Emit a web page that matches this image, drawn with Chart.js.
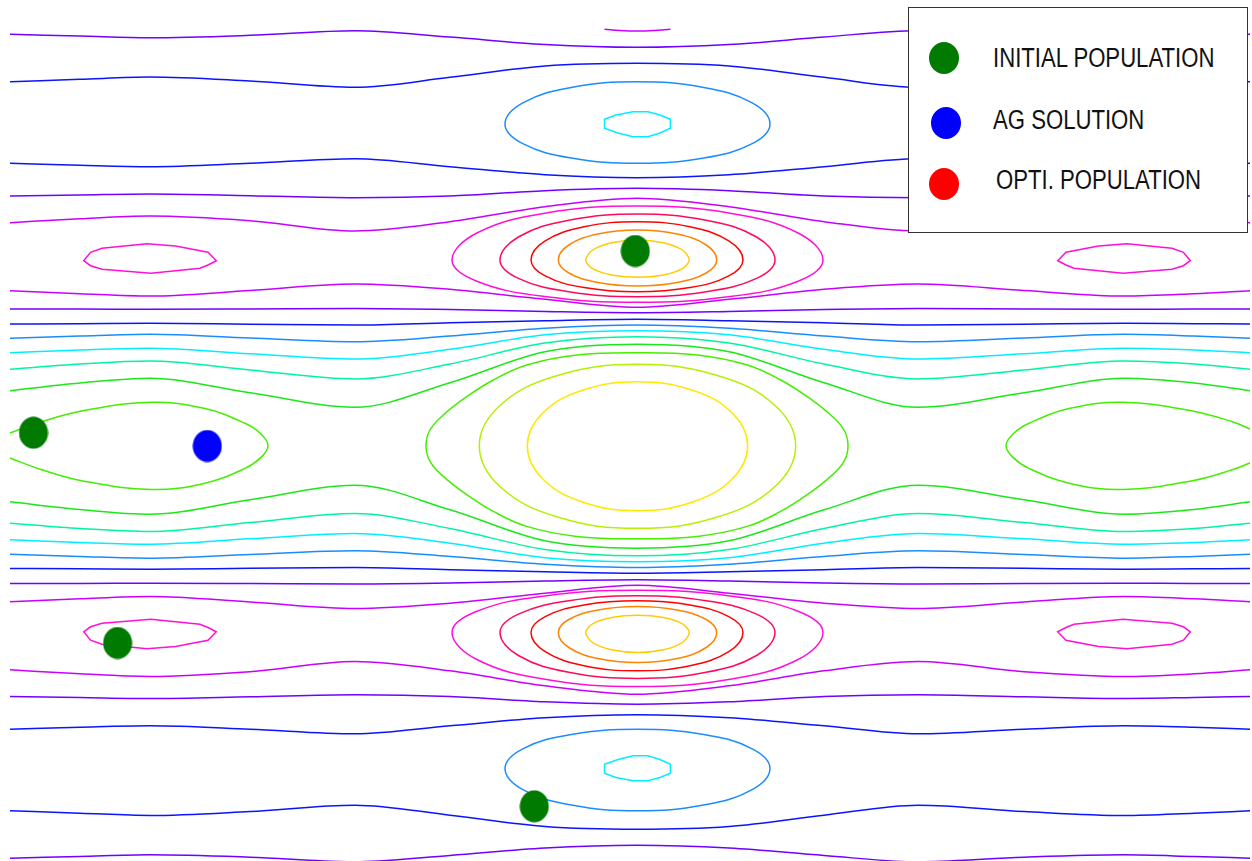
<!DOCTYPE html>
<html>
<head>
<meta charset="utf-8">
<title>Contour - population</title>
<script src="https://cdn.jsdelivr.net/npm/chart.js@4.4.1/dist/chart.umd.min.js"></script>
<style>
  html, body { margin: 0; padding: 0; background: #fff; overflow: hidden; }
  #wrap { position: relative; width: 1252px; height: 861px; }
  #wrap canvas { display: block; }
  #legendBox { position: absolute; left: 908px; top: 7px; width: 340px; height: 226px; box-sizing: border-box; border: 1.5px solid #333; background: #fff; }
  .lg-dot { position: absolute; width: 30px; height: 32px; border-radius: 50%; }
  .lg-text { position: absolute; font-family: "Liberation Sans", Arial, sans-serif; font-size: 27px; line-height: 27px; color: #111; white-space: nowrap; transform: scaleX(0.82); transform-origin: 0 0; }
</style>
</head>
<body>
<div id="wrap">
  <canvas id="contourChart"></canvas>
</div>
<script>
// x positions (plot units) where the open contour lines were read
const xs = [10, 80, 150, 250, 355, 450, 545, 637, 729, 824, 918, 1024, 1124, 1194, 1250];

// open contour lines, top to bottom (y)
const lineA = [34.3, 36, 37.7, 35.3, 30.7, 37, 44.5, 47.3, 44.5, 37, 30.7, 35.3, 37.7, 36, 34.3];
const lineB = [81.7, 79.3, 77, 81, 87.3, 77.3, 66, 63.3, 66, 77.3, 87.3, 81, 77, 79.3, 81.7];
const lineC = [163.3, 165.3, 166.7, 163.3, 158.7, 166.7, 174.7, 177.7, 174.7, 166.7, 158.7, 163.3, 166.7, 165.3, 163.3];
const lineD = [196, 195, 194, 195.7, 197.7, 196, 190.7, 188.3, 190.7, 196, 197.7, 195.7, 194, 195, 196];
const lineE = [222.7, 218.7, 216, 220.7, 231, 221.7, 206.7, 198.3, 206.7, 221.7, 231, 220.7, 216, 218.7, 222.7];
const lineF = [290.7, 293.7, 296, 290.5, 284, 289.3, 299.3, 307.3, 299.3, 289.3, 284, 290.5, 296, 293.7, 290.7];
const lineG = [309, 309, 309.3, 309, 308.5, 309.5, 311.5, 312.7, 311.5, 309.5, 308.5, 309, 309.3, 309, 309];
const lineH = [324, 323.7, 323.3, 324.2, 325, 322.7, 320.7, 319.3, 320.7, 322.7, 325, 324.2, 323.3, 323.7, 324];
const lineI = [338.3, 336, 334.3, 338, 341.7, 336, 328.3, 325, 328.3, 336, 341.7, 338, 334.3, 336, 338.3];
const lineJ = [352.7, 350, 348.3, 353.7, 359, 349.3, 334.7, 330.7, 334.7, 349.3, 359, 353.7, 348.3, 350, 352.7];
const lineK = [369.3, 364, 361, 370, 379, 364, 343, 336.7, 343, 364, 379, 370, 361, 364, 369.3];
const lineL = [390.7, 383, 378.3, 392.8, 407.3, 382.7, 351.7, 344.3, 351.7, 382.7, 407.3, 392.8, 378.3, 383, 390.7];
const lineM = [501.8, 509.5, 514.2, 499.7, 485.2, 509.8, 540.8, 548.2, 540.8, 509.8, 485.2, 499.7, 514.2, 509.5, 501.8];
const lineN = [523.2, 528.5, 531.5, 522.5, 513.5, 528.5, 549.5, 555.8, 549.5, 528.5, 513.5, 522.5, 531.5, 528.5, 523.2];
const lineO = [539.8, 542.5, 544.2, 538.8, 533.5, 543.2, 557.8, 561.8, 557.8, 543.2, 533.5, 538.8, 544.2, 542.5, 539.8];
const lineP = [554.2, 556.5, 558.2, 554.5, 550.8, 556.5, 564.2, 567.5, 564.2, 556.5, 550.8, 554.5, 558.2, 556.5, 554.2];
const lineQ = [568.5, 568.8, 569.2, 568.3, 567.5, 569.8, 571.8, 573.2, 571.8, 569.8, 567.5, 568.3, 569.2, 568.8, 568.5];
const lineR = [583.5, 583.5, 583.2, 583.5, 584, 583, 581, 579.8, 581, 583, 584, 583.5, 583.2, 583.5, 583.5];
const lineS = [601.8, 598.8, 596.5, 602, 608.5, 603.2, 593.2, 585.2, 593.2, 603.2, 608.5, 602, 596.5, 598.8, 601.8];
const lineT = [669.8, 673.8, 676.5, 671.8, 661.5, 670.8, 685.8, 694.2, 685.8, 670.8, 661.5, 671.8, 676.5, 673.8, 669.8];
const lineU = [696.5, 697.5, 698.5, 696.8, 694.8, 696.5, 701.8, 704.2, 701.8, 696.5, 694.8, 696.8, 698.5, 697.5, 696.5];
const lineV = [729.2, 727.2, 725.8, 729.2, 733.8, 725.8, 717.8, 714.8, 717.8, 725.8, 733.8, 729.2, 725.8, 727.2, 729.2];
const lineW = [810.8, 813.2, 815.5, 811.5, 805.2, 815.2, 826.5, 829.2, 826.5, 815.2, 805.2, 811.5, 815.5, 813.2, 810.8];
const lineX = [858.2, 856.5, 854.8, 857.2, 861.8, 855.5, 848, 845.2, 848, 855.5, 861.8, 857.2, 854.8, 856.5, 858.2];

// contours cut by the plot edges (open), [x, y] pairs
const topArc = [[604.5, 29.3], [620, 30.5], [637, 31], [654, 30.5], [670.4, 29.3]];
const leftGreenLoop = [[10, 433], [41, 422], [81.6, 411], [151, 402.3], [204, 408.3], [245, 423.3], [261, 434], [268, 445.7], [261, 457.4], [245, 468.4], [204, 483.4], [151, 489.5], [81.6, 480.7], [41, 469.5], [10, 458]];
const rightGreenLoop = [[1250, 429], [1233, 422], [1192.4, 411], [1123, 402.3], [1070, 408.3], [1029, 423.3], [1013, 434], [1006, 445.7], [1013, 457.4], [1029, 468.4], [1070, 483.4], [1123, 489.5], [1192.4, 480.7], [1233, 469.5], [1250, 463]];

// closed contours, [x, y] pairs (the path is closed back to the first point)
const topBlueRing = [[505, 124], [522.8, 102.9], [571.3, 87.4], [637.5, 81.7], [703.7, 87.4], [752.2, 102.9], [770, 124], [752.2, 143.7], [703.7, 158], [637.5, 163.3], [571.3, 158], [522.8, 143.7]];
const topCyanRing = [[604.5, 119.3], [616, 115], [633, 111.7], [648, 111.7], [660, 115], [670.4, 119.3], [670.4, 128.3], [660, 133], [648, 136.7], [633, 136.7], [618, 133], [604.5, 128.3]];
const topLeftPink = [[83.7, 260.7], [90.6, 252.3], [102, 248.3], [147, 243.7], [175.5, 246], [208, 252.3], [216.3, 260.7], [208, 265], [200, 268.3], [151, 273.3], [102, 269.3], [90.6, 265.7]];
const topRightPink = [[1057.7, 260.7], [1066, 252.3], [1098.5, 246], [1127, 243.7], [1172, 248.3], [1183.4, 252.3], [1190.3, 260.7], [1183.4, 265.7], [1172, 269.3], [1123, 273.3], [1074, 268.3], [1066, 265]];
const topMagentaRing = [[452, 260], [476.9, 233], [544.8, 213.2], [637.5, 206], [730.2, 213.2], [798.1, 233], [823, 260], [798.1, 281.2], [730.2, 296.6], [637.5, 302.3], [544.8, 296.6], [476.9, 281.2]];
const topCrimsonRing = [[500, 260], [518.4, 237], [568.8, 220.2], [637.5, 214], [706.2, 220.2], [756.6, 237], [775, 260], [756.6, 278.4], [706.2, 291.8], [637.5, 296.7], [568.8, 291.8], [518.4, 278.4]];
const topRedRing = [[531, 260], [545.2, 240.9], [584, 226.8], [637, 221.7], [690, 226.8], [728.8, 240.9], [743, 260], [728.8, 275.9], [690, 287.5], [637, 291.7], [584, 287.5], [545.2, 275.9]];
const topOrangeRing = [[558.3, 260], [568.8, 245], [597.9, 234], [637.5, 230], [677.1, 234], [706.2, 245], [716.7, 260], [706.2, 273], [677.1, 282.5], [637.5, 286], [597.9, 282.5], [568.8, 273]];
const topYellowRing = [[585.7, 260], [592.6, 250], [611.6, 242.7], [637.5, 240], [663.4, 242.7], [682.4, 250], [689.3, 260], [682.4, 268.7], [663.4, 275], [637.5, 277.3], [611.6, 275], [592.6, 268.7]];

const midYellowRing = [[527.3, 445.7], [542.1, 413.7], [582.4, 390.3], [637.5, 381.7], [692.6, 390.3], [732.9, 413.7], [747.7, 445.7], [732.9, 478.2], [692.6, 502], [637.5, 510.7], [582.4, 502], [542.1, 478.2]];
const midLimeRing = [[479.3, 445.7], [500.5, 405], [558.4, 375.2], [637.5, 364.3], [716.6, 375.2], [774.5, 405], [795.7, 445.7], [774.5, 487], [716.6, 517.2], [637.5, 528.3], [558.4, 517.2], [500.5, 487]];
const midGreenRing = [[426, 445.7], [430, 430], [443.3, 415], [466.7, 396.7], [493.3, 380], [526.7, 365], [576.7, 355], [637, 352.7], [697.3, 355], [747.3, 365], [780.7, 380], [807.3, 396.7], [830.7, 415], [844, 430], [848, 445.7], [844, 461.4], [830.7, 476.4], [807.3, 494.7], [780.7, 511.4], [747.3, 526.4], [697.3, 536.4], [637, 538.7], [576.7, 536.4], [526.7, 526.4], [493.3, 511.4], [466.7, 494.7], [443.3, 476.4], [430, 461.4]];

const botLeftPink = [[83.7, 631.8], [90.6, 640.2], [102, 644.2], [147, 648.8], [175.5, 646.5], [208, 640.2], [216.3, 631.8], [208, 627.5], [200, 624.2], [151, 619.2], [102, 623.2], [90.6, 626.8]];
const botRightPink = [[1057.7, 631.8], [1066, 640.2], [1098.5, 646.5], [1127, 648.8], [1172, 644.2], [1183.4, 640.2], [1190.3, 631.8], [1183.4, 626.8], [1172, 623.2], [1123, 619.2], [1074, 624.2], [1066, 627.5]];
const botMagentaRing = [[452, 632.5], [476.9, 659.5], [544.8, 679.3], [637.5, 686.5], [730.2, 679.3], [798.1, 659.5], [823, 632.5], [798.1, 611.3], [730.2, 595.9], [637.5, 590.2], [544.8, 595.9], [476.9, 611.3]];
const botCrimsonRing = [[500, 632.5], [518.4, 655.5], [568.8, 672.3], [637.5, 678.5], [706.2, 672.3], [756.6, 655.5], [775, 632.5], [756.6, 614.1], [706.2, 600.7], [637.5, 595.8], [568.8, 600.7], [518.4, 614.1]];
const botRedRing = [[531, 632.5], [545.2, 651.6], [584, 665.7], [637, 670.8], [690, 665.7], [728.8, 651.6], [743, 632.5], [728.8, 616.6], [690, 605], [637, 600.8], [584, 605], [545.2, 616.6]];
const botOrangeRing = [[558.3, 632.5], [568.8, 647.5], [597.9, 658.5], [637.5, 662.5], [677.1, 658.5], [706.2, 647.5], [716.7, 632.5], [706.2, 619.5], [677.1, 610], [637.5, 606.5], [597.9, 610], [568.8, 619.5]];
const botYellowRing = [[585.7, 632.5], [592.6, 642.5], [611.6, 649.8], [637.5, 652.5], [663.4, 649.8], [682.4, 642.5], [689.3, 632.5], [682.4, 623.8], [663.4, 617.5], [637.5, 615.2], [611.6, 617.5], [592.6, 623.8]];
const botBlueRing = [[505, 768.5], [522.8, 789.6], [571.3, 805.1], [637.5, 810.8], [703.7, 805.1], [752.2, 789.6], [770, 768.5], [752.2, 748.8], [703.7, 734.5], [637.5, 729.2], [571.3, 734.5], [522.8, 748.8]];
const botCyanRing = [[604.5, 773.2], [616, 777.5], [633, 780.8], [648, 780.8], [660, 777.5], [670.4, 773.2], [670.4, 764.2], [660, 759.5], [648, 755.8], [633, 755.8], [618, 759.5], [604.5, 764.2]];

// population points
const initialX = [33.5, 635.3, 117.6, 534.3];
const initialY = [432.7, 251, 643, 806.3];
const agX = [207.3];
const agY = [446];
const optiX = [];
const optiY = [];

// level colours
const C = {
    purple: '#7000ff', blue: '#0a14ff', lightBlue: '#1a8cff', cyan: '#00eeff',
    aqua: '#00f5a0', green: '#1ae81a', green2: '#44ee00', lime: '#b4f000',
    yellow: '#ffe800', violet: '#c800ff', pink: '#ff10d8', crimson: '#ff0a5a',
    red: '#ff0000', orange: '#ff8400', gold: '#ffcc00'
};

function openLine(ys, color) {
    return {
        data: xs.map((x, i) => ({ x: x, y: ys[i] })),
        showLine: true, borderColor: color, borderWidth: 1.5,
        pointRadius: 0, cubicInterpolationMode: 'monotone', fill: false
    };
}

function curve(pts, color, tension, closed) {
    return {
        data: pts.map(p => ({ x: p[0], y: p[1] })),
        showLine: true, borderColor: color, borderWidth: 1.5,
        pointRadius: 0, tension: tension, fill: false, closed: !!closed
    };
}

const ring = (pts, color, tension) => curve(pts, color, tension === undefined ? 0.4 : tension, true);

function dot(color) {
    const c = document.createElement('canvas');
    c.width = 30;
    c.height = 33;
    const g = c.getContext('2d');
    g.fillStyle = color;
    g.beginPath();
    g.ellipse(15, 16.5, 14.5, 16, 0, 0, Math.PI * 2);
    g.fill();
    return c;
}

function points(label, px, py, color) {
    return {
        label: label,
        data: px.map((x, i) => ({ x: x, y: py[i] })),
        showLine: false, pointStyle: dot(color), pointRadius: 15,
        backgroundColor: color, borderColor: color, legendColor: color
    };
}

// close the path of ring datasets the same way the radar chart does
const closeRings = {
    id: 'closeRings',
    afterDatasetUpdate(chart, args) {
        const ds = chart.data.datasets[args.index];
        const line = args.meta.dataset;
        if (ds.closed && line) {
            line._loop = true;
            line._fullLoop = true;
        }
    }
};

const datasets = [
    points('INITIAL POPULATION', initialX, initialY, '#007a00'),
    points('AG SOLUTION', agX, agY, '#0000ff'),
    points('OPTI. POPULATION', optiX, optiY, '#ff0000'),

    openLine(lineA, C.purple), openLine(lineB, C.blue), openLine(lineC, C.blue),
    openLine(lineD, C.purple), openLine(lineE, C.violet), openLine(lineF, C.violet),
    openLine(lineG, C.purple), openLine(lineH, C.blue), openLine(lineI, C.lightBlue),
    openLine(lineJ, C.cyan), openLine(lineK, C.aqua), openLine(lineL, C.green),
    openLine(lineM, C.green), openLine(lineN, C.aqua), openLine(lineO, C.cyan),
    openLine(lineP, C.lightBlue), openLine(lineQ, C.blue), openLine(lineR, C.purple),
    openLine(lineS, C.violet), openLine(lineT, C.violet), openLine(lineU, C.purple),
    openLine(lineV, C.blue), openLine(lineW, C.blue), openLine(lineX, C.purple),

    curve(topArc, C.violet, 0.4),
    ring(topBlueRing, C.lightBlue), ring(topCyanRing, C.cyan, 0),
    ring(topLeftPink, C.pink, 0), ring(topRightPink, C.pink, 0),
    ring(topMagentaRing, C.pink), ring(topCrimsonRing, C.crimson), ring(topRedRing, C.red),
    ring(topOrangeRing, C.orange), ring(topYellowRing, C.gold, 0.3),

    ring(midYellowRing, C.yellow), ring(midLimeRing, C.lime), ring(midGreenRing, C.green2),
    curve(leftGreenLoop, C.green2, 0.4), curve(rightGreenLoop, C.green2, 0.4),

    ring(botLeftPink, C.pink, 0), ring(botRightPink, C.pink, 0),
    ring(botMagentaRing, C.pink), ring(botCrimsonRing, C.crimson), ring(botRedRing, C.red),
    ring(botOrangeRing, C.orange), ring(botYellowRing, C.gold, 0.3),
    ring(botBlueRing, C.lightBlue), ring(botCyanRing, C.cyan, 0)
];

const wrap = document.getElementById('wrap');
const chart = new Chart(document.getElementById('contourChart'), {
    type: 'scatter',
    data: { datasets: datasets },
    plugins: [closeRings],
    options: {
        responsive: true,
        maintainAspectRatio: false,
        animation: false,
        events: [],
        layout: { padding: 0, autoPadding: false },
        scales: {
            x: { type: 'linear', min: 0, max: 1252, display: false },
            y: { type: 'linear', min: 0, max: 861, reverse: true, display: false }
        },
        plugins: {
            legend: { display: false },
            tooltip: { enabled: false }
        }
    }
});

// Legend box (html, filled from the labelled datasets)
const box = document.createElement('div');
box.id = 'legendBox';
wrap.appendChild(box);

const dotPos = [[929.3, 41.7], [930.7, 107.3], [929, 168.3]];
const textPos = [[993, 44.8], [993, 107.1], [996, 167.1]];
chart.data.datasets.filter(d => d.label).forEach(function (d, i) {
    const el = document.createElement('div');
    el.className = 'lg-dot';
    el.style.left = dotPos[i][0] + 'px';
    el.style.top = dotPos[i][1] + 'px';
    el.style.background = d.legendColor;
    wrap.appendChild(el);

    const txt = document.createElement('div');
    txt.className = 'lg-text';
    txt.style.left = textPos[i][0] + 'px';
    txt.style.top = textPos[i][1] + 'px';
    txt.textContent = d.label;
    wrap.appendChild(txt);
});
</script>
</body>
</html>
